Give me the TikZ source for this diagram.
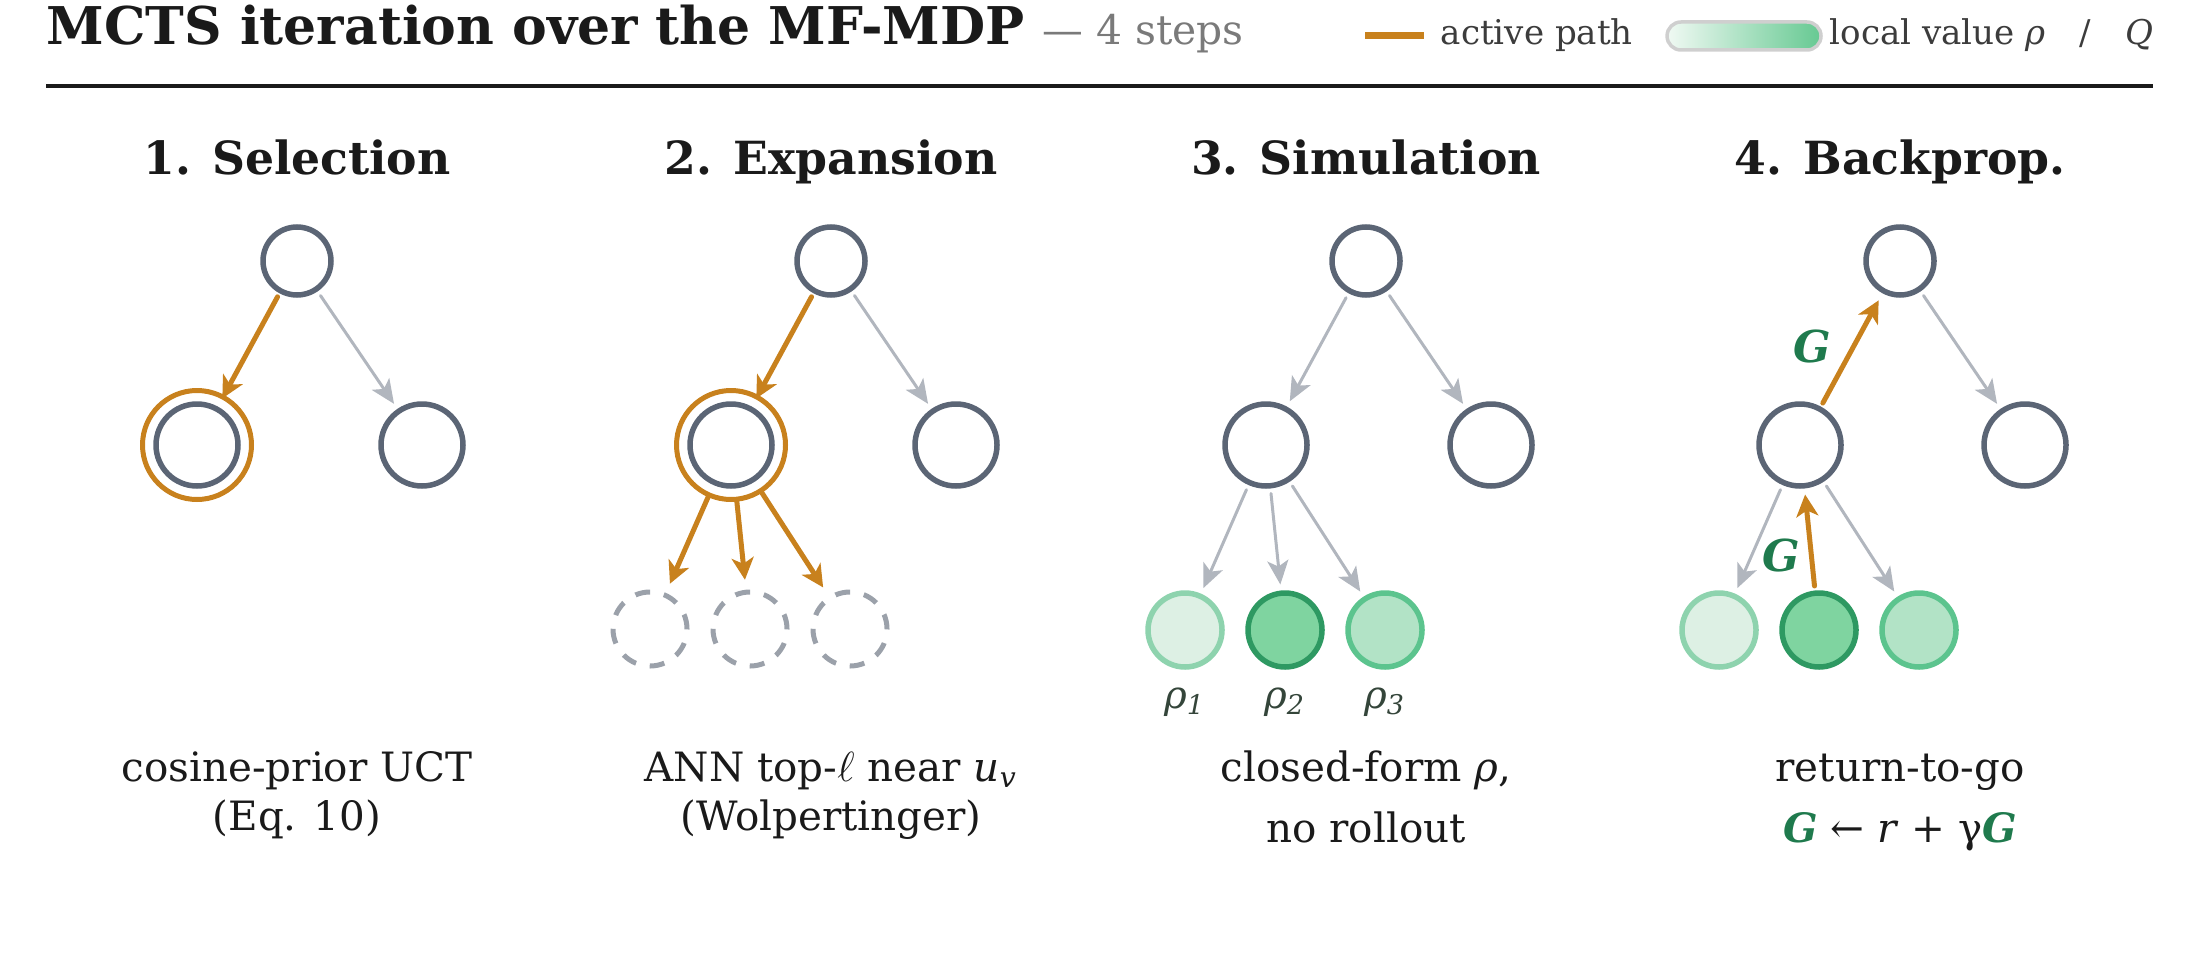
\documentclass[tikz,border=0pt]{standalone}
\usepackage{fontspec}
\setmainfont{DejaVu Serif}
\usetikzlibrary{arrows.meta}
\definecolor{ink}{HTML}{1A1A1A}
\definecolor{stepgrey}{HTML}{7A7A7A}
\definecolor{slate}{HTML}{5B6575}
\definecolor{mctsorange}{HTML}{C8811D}
\definecolor{idlegrey}{HTML}{B1B6BE}
\definecolor{ghostgrey}{HTML}{9BA1AA}
\definecolor{leafloline}{HTML}{8ED3AE}
\definecolor{leaflofill}{HTML}{DDF0E4}
\definecolor{leafhiline}{HTML}{2E9962}
\definecolor{leafhifill}{HTML}{7FD4A0}
\definecolor{leafmdline}{HTML}{5CC48E}
\definecolor{leafmdfill}{HTML}{B2E3C6}
\definecolor{gvalue}{HTML}{1F7A4D}
\definecolor{rholabel}{HTML}{34453A}
\definecolor{pillline}{HTML}{CFCFCF}
\definecolor{pilllo}{HTML}{F0F9F3}
\definecolor{pillhi}{HTML}{66C992}
\newcommand{\gG}{{\color{gvalue}\bfseries\itshape G}}
\tikzset{
  tnode/.style={circle, draw=slate, line width=0.55mm, fill=white, inner sep=0pt},
  root/.style={tnode, minimum size=6.8mm},
  kid/.style={tnode, minimum size=8.2mm},
  ring/.style={circle, draw=mctsorange, line width=0.5mm, minimum size=10.9mm, inner sep=0pt},
  ghost/.style={circle, draw=ghostgrey, line width=0.5mm, dash pattern=on 1.5mm off 1.4mm,
    minimum size=7.4mm, inner sep=0pt},
  leaf/.style={circle, line width=0.55mm, minimum size=7.4mm, inner sep=0pt},
  leaflo/.style={leaf, draw=leafloline, fill=leaflofill},
  leafhi/.style={leaf, draw=leafhiline, fill=leafhifill},
  leafmd/.style={leaf, draw=leafmdline, fill=leafmdfill},
  act/.style={draw=mctsorange, line width=0.5mm, line cap=round,
    -{Stealth[length=2.2mm, width=2.2mm, inset=0.6mm]}},
  idle/.style={draw=idlegrey, line width=0.3mm, line cap=round,
    -{Stealth[length=2.4mm, width=2.1mm, inset=0.6mm]}, shorten <=0.5mm, shorten >=0.6mm},
  head/.style={font=\fontsize{13}{16}\selectfont\bfseries, text=ink, anchor=base, inner sep=0pt},
  note/.style={font=\fontsize{11.5}{14}\selectfont, text=ink, anchor=base, inner sep=0pt},
  legtext/.style={font=\fontsize{9.7}{12}\selectfont, text=ink!85, anchor=base west, inner sep=0pt},
  rho/.style={font=\fontsize{11}{13}\selectfont, text=rholabel, anchor=base, inner sep=0pt},
  glab/.style={font=\fontsize{12.5}{15}\selectfont, inner sep=0pt},
}
\begin{document}
\begin{tikzpicture}[x=0.1mm, y=-0.1mm]
  \useasboundingbox (0,0) rectangle (2196,975);

  % Title and rule
  \node[anchor=base west, inner sep=0pt, text=ink] (title) at (46,45)
    {\fontsize{14.8}{17}\selectfont\bfseries MCTS iteration over the MF-MDP
     {\mdseries\color{stepgrey}\fontsize{11.6}{15}\selectfont — 4 steps}};
  \coordinate (ruleL) at (46,86);
  \coordinate (ruleR) at (2153,86);
  \draw[line width=0.35mm, ink] (ruleL) -- (ruleR);

  % Legend
  \coordinate (lgA) at (1365,36);
  \coordinate (lgB) at (1424,36);
  \draw[mctsorange, line width=0.7mm] (lgA) -- (lgB);
  \node[legtext] (lgact) at (1440,45) {active path};
  \node[draw=pillline, line width=0.35mm, rounded corners=1.4mm, minimum width=15.4mm,
    minimum height=2.8mm, inner sep=0pt, left color=pilllo, right color=pillhi] (pill) at (1744,36) {};
  \node[legtext] (lgval) at (1829,45) {local value \textit{ρ}\quad/\quad\textit{Q}};

  % Step headers
  \node[head] (h1) at (297,175) {1. Selection};
  \node[head] (h2) at (831,175) {2. Expansion};
  \node[head] (h3) at (1366,175) {3. Simulation};
  \node[head] (h4) at (1900,175) {4. Backprop.};

  % 1. Selection
  \node[root] (a0) at (297,261) {};
  \node[kid] (a1) at (197,445) {};
  \node[ring] (a1r) at (197,445) {};
  \node[kid] (a2) at (422,445) {};
  \draw[act, shorten <=0.4mm, shorten >=-0.4mm] (a0) -- (a1r);
  \draw[idle] (a0) -- (a2);

  % 2. Expansion
  \node[root] (b0) at (831,261) {};
  \node[kid] (b1) at (731,445) {};
  \node[ring] (b1r) at (731,445) {};
  \node[kid] (b2) at (956,445) {};
  \node[ghost] (b3) at (650,629) {};
  \node[ghost] (b4) at (750,629) {};
  \node[ghost] (b5) at (850,629) {};
  \draw[act, shorten <=0.4mm, shorten >=-0.4mm] (b0) -- (b1r);
  \draw[idle] (b0) -- (b2);
  \foreach \g in {b3,b4,b5}
    \draw[act, shorten >=1mm] (b1r) -- (\g);

  % 3. Simulation
  \node[root] (c0) at (1366,261) {};
  \node[kid] (c1) at (1266,445) {};
  \node[kid] (c2) at (1491,445) {};
  \node[leaflo] (c3) at (1185,630) {};
  \node[leafhi] (c4) at (1285,630) {};
  \node[leafmd] (c5) at (1385,630) {};
  \draw[idle] (c0) -- (c1);
  \draw[idle] (c0) -- (c2);
  \foreach \l in {c3,c4,c5}
    \draw[idle] (c1) -- (\l);
  \node[rho] (r1) at (1185,708) {\textit{ρ}\textsubscript{\textit{1}}};
  \node[rho] (r2) at (1285,708) {\textit{ρ}\textsubscript{\textit{2}}};
  \node[rho] (r3) at (1385,708) {\textit{ρ}\textsubscript{\textit{3}}};

  % 4. Backprop.
  \node[root] (d0) at (1900,261) {};
  \node[kid] (d1) at (1800,445) {};
  \node[kid] (d2) at (2025,445) {};
  \node[leaflo] (d3) at (1719,630) {};
  \node[leafhi] (d4) at (1819,630) {};
  \node[leafmd] (d5) at (1919,630) {};
  \draw[idle] (d0) -- (d2);
  \draw[idle] (d1) -- (d3);
  \draw[idle] (d1) -- (d5);
  \draw[act, shorten <=0.45mm, shorten >=0.6mm] (d4) -- (d1);
  \draw[act, shorten <=0.4mm, shorten >=0.8mm] (d1) -- (d0);
  \node[glab] (g1) at (1812,347) {\gG};
  \node[glab] (g2) at (1781,556) {\gG};

  % Notes under each step
  \node[note] (n1a) at (297,781) {cosine-prior UCT};
  \node[note] (n1b) at (297,830) {(Eq. 10)};
  \node[note] (n2a) at (831,781) {ANN top-$\ell$ near \textit{u}\textsubscript{\textit{v}}};
  \node[note] (n2b) at (831,830) {(Wolpertinger)};
  \node[note] (n3a) at (1366,781) {closed-form \textit{ρ},};
  \node[note] (n3b) at (1366,842) {no rollout};
  \node[note] (n4a) at (1900,781) {return-to-go};
  \node[note] (n4b) at (1900,842) {\gG{} ← \textit{r} + γ\gG};
\end{tikzpicture}
\end{document}
